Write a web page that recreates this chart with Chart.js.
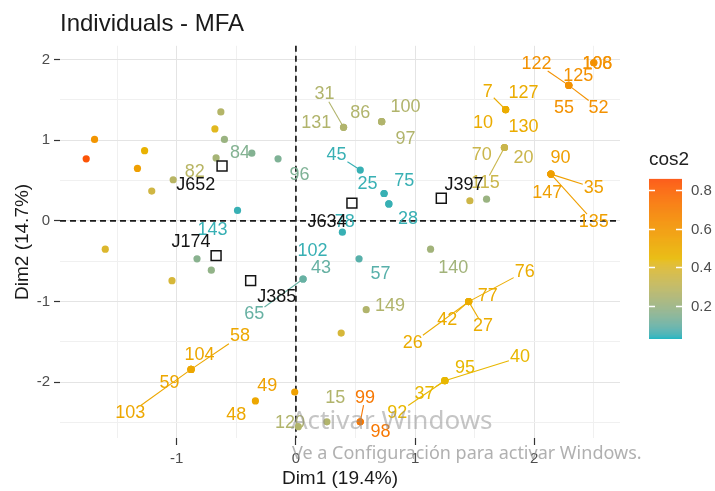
<!DOCTYPE html>
<html>
<head>
<meta charset="utf-8">
<script src="https://cdn.jsdelivr.net/npm/chart.js@4.4.0/dist/chart.umd.min.js"></script>
<style>
  html, body { margin: 0; padding: 0; background: #ffffff; }
  #wrap { width: 715px; height: 491px; position: relative; }
</style>
</head>
<body>
<div id="wrap"><canvas id="chart" width="715" height="491"></canvas></div>
<script>
// ---- Individuals (active) ----
const individuals = ['', '', '', '', '', '82', '', '', '', '', '84', '96', '143', '', '', '', '',
  '43', '65', '58', '104', '59', '103', '49', '48', '15', '120', '99', '98', '40', '95', '37', '92',
  '76', '77', '42', '26', '27', '149', '', '140', '102', '57', '78', '28', '25', '75', '45', '', '',
  '70', '20', '115', '7', '127', '10', '130', '122', '125', '55', '52', '106', '108',
  '90', '35', '147', '135', '31', '131', '86', '100', '97'];
const dim1 = [-1.76, -1.69, -1.27, -1.33, -1.21, -1.03, -0.63, -0.68, -0.60, -0.67, -0.37, -0.15, -0.49, -1.60, -1.04, -0.83, -0.71,
  0.06, 0.06, -0.88, -0.88, -0.88, -0.88, -0.01, -0.34, 0.26, 0.02, 0.54, 0.54, 1.25, 1.25, 1.25, 1.25,
  1.45, 1.45, 1.45, 1.45, 1.45, 0.59, 0.38, 1.13, 0.39, 0.53, 0.78, 0.78, 0.74, 0.74, 0.54, 1.46, 1.60,
  1.75, 1.75, 1.75, 1.76, 1.76, 1.76, 1.76, 2.29, 2.29, 2.29, 2.29, 2.50, 2.50,
  2.14, 2.14, 2.14, 2.14, 0.40, 0.40, 0.72, 0.72, 0.72];
const dim2 = [0.77, 1.01, 0.87, 0.65, 0.37, 0.51, 1.35, 1.14, 1.01, 0.78, 0.84, 0.77, 0.13, -0.35, -0.74, -0.47, -0.61,
  -0.72, -0.72, -1.84, -1.84, -1.84, -1.84, -2.12, -2.23, -2.49, -2.55, -2.49, -2.49, -1.98, -1.98, -1.98, -1.98,
  -1.00, -1.00, -1.00, -1.00, -1.00, -1.10, -1.39, -0.35, -0.14, -0.47, 0.21, 0.21, 0.34, 0.34, 0.63, 0.25, 0.27,
  0.91, 0.91, 0.91, 1.38, 1.38, 1.38, 1.38, 1.68, 1.68, 1.68, 1.68, 1.96, 1.96,
  0.58, 0.58, 0.58, 0.58, 1.16, 1.16, 1.23, 1.23, 1.23];
const cos2 = [0.84, 0.60, 0.47, 0.56, 0.36, 0.28, 0.27, 0.42, 0.20, 0.23, 0.15, 0.14, 0.05, 0.40, 0.38, 0.16, 0.18,
  0.10, 0.10, 0.52, 0.52, 0.52, 0.52, 0.55, 0.52, 0.26, 0.26, 0.72, 0.72, 0.45, 0.45, 0.45, 0.45,
  0.50, 0.50, 0.50, 0.50, 0.50, 0.26, 0.38, 0.22, 0.05, 0.08, 0.05, 0.05, 0.05, 0.05, 0.05, 0.35, 0.20,
  0.34, 0.34, 0.34, 0.50, 0.50, 0.50, 0.50, 0.62, 0.62, 0.62, 0.62, 0.62, 0.62,
  0.56, 0.56, 0.56, 0.56, 0.26, 0.26, 0.26, 0.26, 0.26];
// where each repelled text label sits, in Dim1 / Dim2 units
const labelDim1 = [null, null, null, null, null, -0.85, null, null, null, null, -0.47, 0.03, -0.70, null, null, null, null,
  0.21, -0.35, -0.47, -0.81, -1.06, -1.39, -0.24, -0.50, 0.33, -0.05, 0.58, 0.71, 1.88, 1.42, 1.08, 0.85,
  1.92, 1.61, 1.27, 0.98, 1.57, 0.79, null, 1.32, 0.14, 0.71, 0.41, 0.94, 0.60, 0.91, 0.34, null, null,
  1.56, 1.91, 1.59, 1.61, 1.91, 1.57, 1.91, 2.02, 2.37, 2.25, 2.54, 2.53, 2.53,
  2.22, 2.50, 2.11, 2.50, 0.24, 0.17, 0.54, 0.92, 0.92];
const labelDim2 = [null, null, null, null, null, 0.60, null, null, null, null, 0.84, 0.57, -0.11, null, null, null, null,
  -0.58, -1.16, -1.43, -1.66, -2.01, -2.38, -2.04, -2.40, -2.19, -2.50, -2.19, -2.61, -1.69, -1.82, -2.14, -2.38,
  -0.63, -0.93, -1.23, -1.51, -1.30, -1.05, null, -0.58, -0.37, -0.66, -0.01, 0.02, 0.46, 0.50, 0.82, null, null,
  0.82, 0.78, 0.47, 1.60, 1.58, 1.21, 1.16, 1.95, 1.79, 1.40, 1.40, 1.95, 1.95,
  0.78, 0.41, 0.35, -0.01, 1.57, 1.21, 1.34, 1.41, 1.02];
// labels joined to their point by a leader segment
const leaderIds = ['65', '58', '103', '99', '40', '37', '92', '76', '26', '42', '27', '115', '7', '122', '52', '35', '135', '31', '45'];

// ---- Supplementary individuals ----
const supIds = ['J652', 'J174', 'J385', 'J634', 'J397'];
const supDim1 = [-0.62, -0.67, -0.38, 0.47, 1.22];
const supDim2 = [0.68, -0.43, -0.74, 0.22, 0.28];
const supLabelDim1 = [-0.84, -0.88, -0.16, 0.26, 1.41];
const supLabelDim2 = [0.45, -0.26, -0.94, -0.01, 0.45];

// ---- Axes and colour scale ----
const xTicks = [-1, 0, 1, 2];
const yTicks = [-2, -1, 0, 1, 2];
const xMinorTicks = [-1.5, -0.5, 0.5, 1.5, 2.5];
const yMinorTicks = [-2.5, -1.5, -0.5, 0.5, 1.5];
const cos2Breaks = [0.2, 0.4, 0.6, 0.8];
const cos2Limits = [0.029, 0.857];
const gradientCols = ['#00AFBB', '#E7B800', '#FC4E07'];

const FONT = "'Liberation Sans', Arial, Helvetica, sans-serif";

// CIELAB interpolation for the colour gradient
function hexToRgb(h) { const n = parseInt(h.slice(1), 16); return [(n >> 16) & 255, (n >> 8) & 255, n & 255]; }
function toLin(c) { c /= 255; return c <= 0.04045 ? c / 12.92 : Math.pow((c + 0.055) / 1.055, 2.4); }
function fromLin(c) { const v = c <= 0.0031308 ? 12.92 * c : 1.055 * Math.pow(c, 1 / 2.4) - 0.055; return Math.max(0, Math.min(255, Math.round(v * 255))); }
const WN = [0.95047, 1, 1.08883];
function rgbToLab(rgb) {
  const [r, g, b] = rgb.map(toLin);
  const X = (0.4124 * r + 0.3576 * g + 0.1805 * b) / WN[0];
  const Y = (0.2126 * r + 0.7152 * g + 0.0722 * b) / WN[1];
  const Z = (0.0193 * r + 0.1192 * g + 0.9505 * b) / WN[2];
  const f = t => t > 0.008856 ? Math.cbrt(t) : 7.787 * t + 16 / 116;
  const fx = f(X), fy = f(Y), fz = f(Z);
  return [116 * fy - 16, 500 * (fx - fy), 200 * (fy - fz)];
}
function labToRgb(lab) {
  const [L, a, b] = lab;
  const fy = (L + 16) / 116, fx = fy + a / 500, fz = fy - b / 200;
  const inv = t => t * t * t > 0.008856 ? t * t * t : (t - 16 / 116) / 7.787;
  const X = inv(fx) * WN[0], Y = inv(fy) * WN[1], Z = inv(fz) * WN[2];
  const r = 3.2406 * X - 1.5372 * Y - 0.4986 * Z;
  const g = -0.9689 * X + 1.8758 * Y + 0.0415 * Z;
  const bl = 0.0557 * X - 0.2040 * Y + 1.0570 * Z;
  return [fromLin(r), fromLin(g), fromLin(bl)];
}
const gradLab = gradientCols.map(h => rgbToLab(hexToRgb(h)));
function cos2Colour(v) {
  let t = (v - cos2Limits[0]) / (cos2Limits[1] - cos2Limits[0]);
  t = Math.max(0, Math.min(1, t));
  const seg = t < 0.5 ? 0 : 1;
  const u = seg === 0 ? t / 0.5 : (t - 0.5) / 0.5;
  const A = gradLab[seg], B = gradLab[seg + 1];
  const rgb = labToRgb([0, 1, 2].map(k => A[k] + (B[k] - A[k]) * u));
  return `rgb(${rgb[0]},${rgb[1]},${rgb[2]})`;
}

const isMajor = v => Number.isInteger(Math.round(v * 1000) / 1000);

// dashed reference lines through the origin
const originLines = {
  id: 'originLines',
  beforeDatasetsDraw(chart) {
    const { ctx, chartArea: a, scales: { x, y } } = chart;
    const x0 = x.getPixelForValue(0), y0 = y.getPixelForValue(0);
    ctx.save();
    ctx.strokeStyle = '#1a1a1a';
    ctx.lineWidth = 1.7;
    ctx.setLineDash([6, 4]);
    ctx.beginPath();
    ctx.moveTo(x0, a.top); ctx.lineTo(x0, a.bottom);
    ctx.moveTo(a.left, y0); ctx.lineTo(a.right, y0);
    ctx.stroke();
    ctx.restore();
  }
};

// leader segments and text labels for every individual
const pointLabels = {
  id: 'pointLabels',
  afterDatasetsDraw(chart) {
    const { ctx, scales: { x, y } } = chart;
    ctx.save();
    ctx.font = `18px ${FONT}`;
    ctx.textAlign = 'center';
    ctx.textBaseline = 'middle';
    // segments first
    individuals.forEach((id, i) => {
      if (!id || labelDim1[i] === null || !leaderIds.includes(id)) return;
      const px = x.getPixelForValue(dim1[i]), py = y.getPixelForValue(dim2[i]);
      const cx = x.getPixelForValue(labelDim1[i]), cy = y.getPixelForValue(labelDim2[i]);
      const hw = ctx.measureText(id).width / 2 + 1, hh = 7.5;
      const dx = px - cx, dy = py - cy;
      const t = Math.min(dx === 0 ? Infinity : hw / Math.abs(dx), dy === 0 ? Infinity : hh / Math.abs(dy));
      if (t >= 1) return;
      ctx.strokeStyle = cos2Colour(cos2[i]);
      ctx.lineWidth = 1.1;
      ctx.beginPath();
      ctx.moveTo(cx + dx * t, cy + dy * t);
      ctx.lineTo(px, py);
      ctx.stroke();
    });
    individuals.forEach((id, i) => {
      if (!id || labelDim1[i] === null) return;
      ctx.fillStyle = cos2Colour(cos2[i]);
      ctx.fillText(id, x.getPixelForValue(labelDim1[i]), y.getPixelForValue(labelDim2[i]));
    });
    ctx.fillStyle = '#141414';
    supIds.forEach((id, i) => {
      ctx.fillText(id, x.getPixelForValue(supLabelDim1[i]), y.getPixelForValue(supLabelDim2[i]));
    });
    ctx.restore();
  }
};

// colour bar legend for cos2
const cos2Legend = {
  id: 'cos2Legend',
  afterDraw(chart) {
    const { ctx, chartArea: a } = chart;
    const mid = (a.top + a.bottom) / 2;
    const left = a.right + 29, w = 33;
    const top = mid - 63, bottom = mid + 97;
    const valToY = v => bottom - (v - cos2Limits[0]) / (cos2Limits[1] - cos2Limits[0]) * (bottom - top);
    ctx.save();
    ctx.fillStyle = '#222222';
    ctx.font = `19px ${FONT}`;
    ctx.textAlign = 'left';
    ctx.textBaseline = 'middle';
    ctx.fillText('cos2', left, mid - 82);
    for (let py = top; py < bottom; py++) {
      const v = cos2Limits[1] - (py + 0.5 - top) / (bottom - top) * (cos2Limits[1] - cos2Limits[0]);
      ctx.fillStyle = cos2Colour(v);
      ctx.fillRect(left, py, w, 1);
    }
    ctx.strokeStyle = '#ffffff';
    ctx.lineWidth = 1.3;
    ctx.font = `15px ${FONT}`;
    cos2Breaks.forEach(b => {
      const yy = Math.round(valToY(b)) + 0.5;
      ctx.beginPath();
      ctx.moveTo(left, yy); ctx.lineTo(left + 6, yy);
      ctx.moveTo(left + w - 6, yy); ctx.lineTo(left + w, yy);
      ctx.stroke();
      ctx.fillStyle = '#4d4d4d';
      ctx.fillText(b.toFixed(1), left + w + 9, yy);
    });
    ctx.restore();
  }
};

// translucent system notice across the lower part of the canvas
const notice = {
  id: 'notice',
  afterDraw(chart) {
    const { ctx } = chart;
    ctx.save();
    ctx.textAlign = 'left';
    ctx.textBaseline = 'middle';
    ctx.fillStyle = 'rgba(140,140,140,0.5)';
    ctx.font = `26px 'Noto Sans', 'Open Sans', sans-serif`;
    ctx.fillText('Activar Windows', 291, 422);
    ctx.fillStyle = 'rgba(150,150,150,0.75)';
    ctx.font = `18px 'Noto Sans', 'Open Sans', sans-serif`;
    ctx.fillText('Ve a Configuración para activar Windows.', 292, 454);
    ctx.restore();
  }
};

const gridColour = ctx => (ctx.tick && isMajor(ctx.tick.value)) ? '#e4e4e4' : '#f0f0f0';
const tickColour = ctx => (ctx.tick && isMajor(ctx.tick.value)) ? '#333333' : 'rgba(0,0,0,0)';

new Chart(document.getElementById('chart'), {
  type: 'scatter',
  data: {
    datasets: [
      {
        label: 'supplementary',
        order: 0,
        data: supDim1.map((v, i) => ({ x: v, y: supDim2[i] })),
        pointStyle: 'rect',
        pointRadius: 7,
        pointHoverRadius: 7,
        borderColor: '#141414',
        backgroundColor: 'rgba(0,0,0,0)',
        borderWidth: 1.5
      },
      {
        label: 'individuals',
        order: 1,
        data: dim1.map((v, i) => ({ x: v, y: dim2[i] })),
        pointRadius: 3.6,
        pointHoverRadius: 3.6,
        pointBorderWidth: 0,
        pointBackgroundColor: cos2.map(cos2Colour),
        pointBorderColor: cos2.map(cos2Colour)
      }
    ]
  },
  options: {
    responsive: false,
    animation: false,
    devicePixelRatio: 1,
    layout: { padding: { left: 0, right: 95, top: 0, bottom: 0 } },
    plugins: {
      legend: { display: false },
      tooltip: { enabled: false },
      title: {
        display: true,
        text: 'Individuals - MFA',
        align: 'start',
        fullSize: false,
        color: '#1a1a1a',
        font: { family: FONT, size: 24, weight: 'normal' },
        padding: { top: 10, bottom: 7 }
      }
    },
    scales: {
      x: {
        type: 'linear',
        min: -1.98,
        max: 2.72,
        afterBuildTicks: s => { s.ticks = [...xTicks, ...xMinorTicks].sort((p, q) => p - q).map(v => ({ value: v })); },
        afterFit: s => { s.height = 53; },
        ticks: {
          autoSkip: false, maxRotation: 0, padding: 5,
          color: '#4d4d4d', font: { family: FONT, size: 15 },
          callback: v => xTicks.includes(v) ? String(v) : ''
        },
        grid: { color: gridColour, lineWidth: 1, drawTicks: true, tickLength: 7, tickColor: tickColour, tickWidth: 1.2 },
        border: { display: false },
        title: { display: true, text: 'Dim1 (19.4%)', color: '#1a1a1a', font: { family: FONT, size: 19 }, padding: { top: 0, bottom: 1 } }
      },
      y: {
        type: 'linear',
        min: -2.69,
        max: 2.17,
        afterBuildTicks: s => { s.ticks = [...yTicks, ...yMinorTicks].sort((p, q) => p - q).map(v => ({ value: v })); },
        afterFit: s => { s.width = 60; },
        ticks: {
          autoSkip: false, padding: 4,
          color: '#4d4d4d', font: { family: FONT, size: 15 },
          callback: v => yTicks.includes(v) ? String(v) : ''
        },
        grid: { color: gridColour, lineWidth: 1, drawTicks: true, tickLength: 6, tickColor: tickColour, tickWidth: 1.2 },
        border: { display: false },
        title: { display: true, text: 'Dim2 (14.7%)', color: '#1a1a1a', font: { family: FONT, size: 19 }, padding: { top: 11, bottom: 0 } }
      }
    }
  },
  plugins: [originLines, pointLabels, cos2Legend, notice]
});
</script>
</body>
</html>
